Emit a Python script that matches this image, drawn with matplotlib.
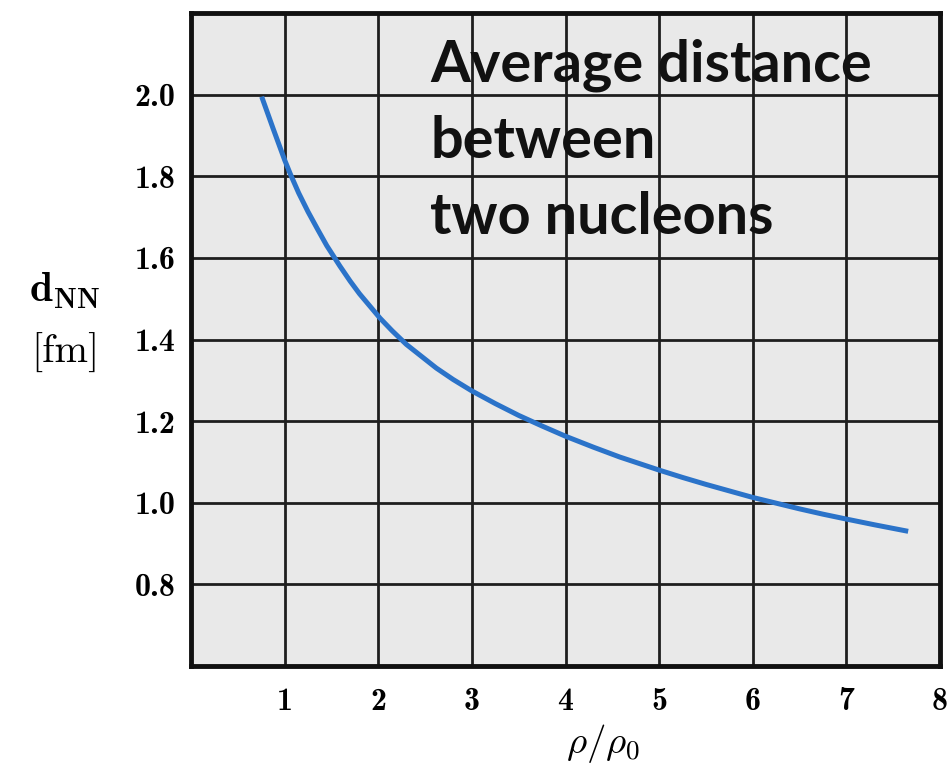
import numpy as np
import matplotlib
matplotlib.use("Agg")
import matplotlib.pyplot as plt

# values
rho_ratio = [0.755, 0.88, 1.0, 1.06, 1.15, 1.25, 1.35, 1.45, 1.59, 1.70, 1.80, 2.02,
             2.15, 2.30, 2.62, 2.80, 3.0, 3.25, 3.5, 3.75, 4.0, 4.3, 4.58, 5.0,
             5.25, 5.5, 5.75, 6.0, 6.25, 6.5, 6.75, 7.0, 7.3, 7.66]
d_nn = [1.995, 1.915, 1.840, 1.806, 1.759, 1.713, 1.671, 1.630, 1.580, 1.543, 1.512, 1.452,
        1.421, 1.388, 1.330, 1.302, 1.274, 1.243, 1.214, 1.188, 1.163, 1.136, 1.112, 1.080,
        1.062, 1.045, 1.029, 1.013, 0.999, 0.985, 0.972, 0.960, 0.946, 0.930]

x_ticks = [1, 2, 3, 4, 5, 6, 7, 8]
y_ticks = [0.8, 1.0, 1.2, 1.4, 1.6, 1.8, 2.0]
note_lines = ["Average distance", "between", "two nucleons"]

plt.rcParams["mathtext.fontset"] = "cm"

fig = plt.figure(figsize=(9.49, 7.67), dpi=100)
ax = fig.add_axes([191 / 949, 101 / 767, 749 / 949, 653 / 767])
ax.set_facecolor("#e9e9e9")

ax.set_xlim(0, 8)
ax.set_ylim(0.6, 2.2)

# grid lines at the ticks, drawn under the curve
for xv in x_ticks[:-1]:
    ax.axvline(xv, color="#1e1e1e", lw=2.0, zorder=1)
for yv in y_ticks:
    ax.axhline(yv, color="#1e1e1e", lw=2.0, zorder=1)

ax.plot(rho_ratio, d_nn, color="#2b73c9", lw=3.6, solid_capstyle="butt",
        solid_joinstyle="round", zorder=3)

for s in ax.spines.values():
    s.set_linewidth(3.5)
    s.set_color("#111111")
    s.set_zorder(4)

ax.set_xticks(x_ticks)
ax.set_yticks(y_ticks)
ax.set_xticklabels([str(v) for v in x_ticks], fontfamily="cmb10", fontsize=23)
ax.set_yticklabels([f"{v:.1f}" for v in y_ticks], fontfamily="cmb10", fontsize=23)
ax.tick_params(axis="both", length=0)
ax.tick_params(axis="y", pad=11)
ax.tick_params(axis="x", pad=15)

ax.set_xlabel(r"$\rho/\rho_0$", fontsize=28)
ax.xaxis.set_label_coords(4.4 / 8, -0.085)

fig.text(65 / 949, 1 - 290 / 767, r"$\mathbf{d}_{\mathbf{NN}}$", fontsize=30,
         ha="center", va="center")
fig.text(65 / 949, 1 - 353 / 767, "[fm]", fontfamily="cmr10", fontsize=29,
         ha="center", va="center")

for i, line in enumerate(note_lines):
    ax.text(430 / 949, 1 - (65 + 76 * i) / 767, line, transform=fig.transFigure,
            fontfamily="Lato", fontweight="bold", fontsize=41.5,
            ha="left", va="center", color="#111111", zorder=5)

fig.savefig("out.png", dpi=100)
